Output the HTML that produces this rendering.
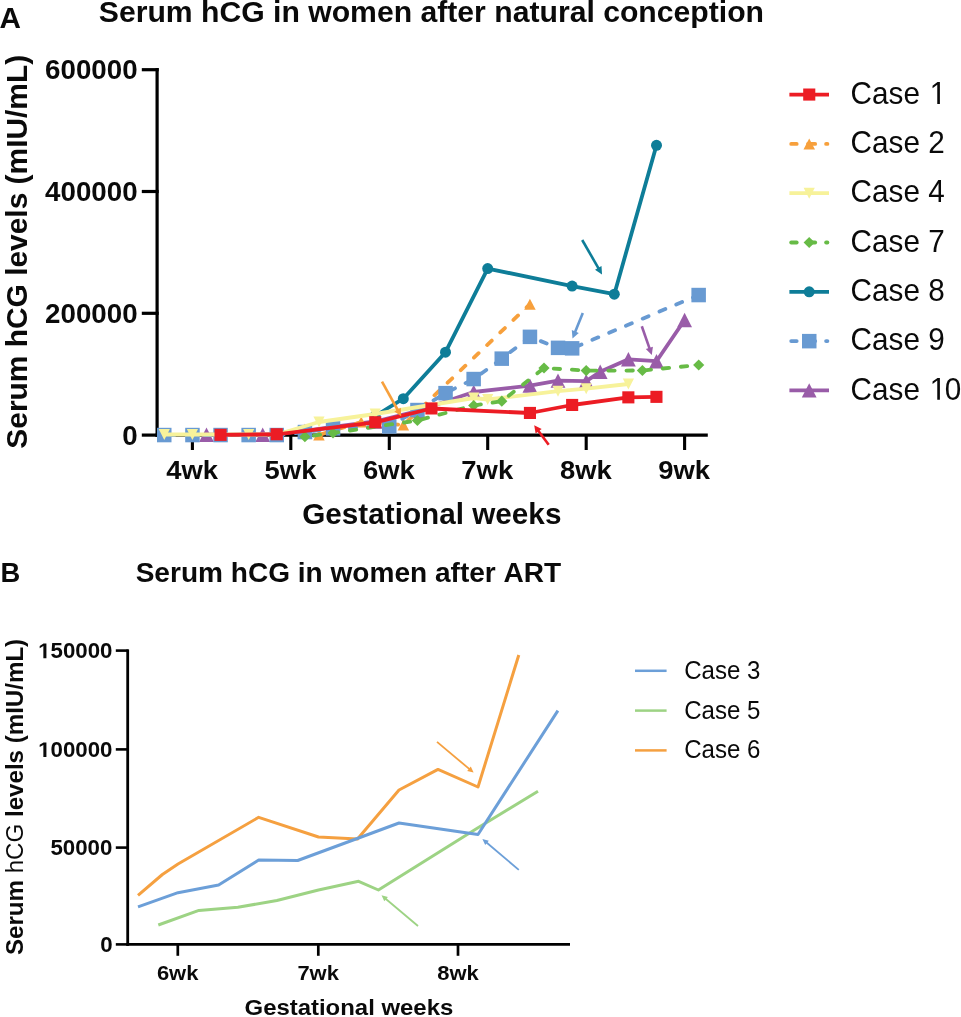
<!DOCTYPE html>
<html><head><meta charset="utf-8"><title>Serum hCG</title><style>
html,body{margin:0;padding:0;background:#fff;}
svg{display:block;}
text{font-family:'Liberation Sans', sans-serif;font-kerning:none;}
</style></head><body>
<svg style="will-change:transform" width="961" height="1017" viewBox="0 0 961 1017">
<rect width="961" height="1017" fill="#fff"/>
<text transform="translate(-0.59,27.69) scale(1.0303,1)" font-size="28.824" font-weight="bold" fill="#0a0a0a">A</text>
<text transform="translate(98.79,21.70) scale(1.0000,1)" font-size="30.168" font-weight="bold" fill="#0a0a0a">Serum hCG in women after natural conception</text>
<text transform="translate(122.16,444.53) scale(1.0252,1)" font-size="27.042" font-weight="bold" fill="#0a0a0a">0</text>
<line x1="141.8" y1="435.1" x2="158.7" y2="435.1" stroke="#000" stroke-width="3.2"/>
<text transform="translate(45.09,322.73) scale(1.0252,1)" font-size="27.042" font-weight="bold" fill="#0a0a0a">200000</text>
<line x1="141.8" y1="313.3" x2="158.7" y2="313.3" stroke="#000" stroke-width="3.2"/>
<text transform="translate(45.09,200.93) scale(1.0252,1)" font-size="27.042" font-weight="bold" fill="#0a0a0a">400000</text>
<line x1="141.8" y1="191.5" x2="158.7" y2="191.5" stroke="#000" stroke-width="3.2"/>
<text transform="translate(45.09,79.13) scale(1.0252,1)" font-size="27.042" font-weight="bold" fill="#0a0a0a">600000</text>
<line x1="141.8" y1="69.7" x2="158.7" y2="69.7" stroke="#000" stroke-width="3.2"/>
<line x1="157.1" y1="68.1" x2="157.1" y2="436.7" stroke="#000" stroke-width="3.2"/>
<line x1="155.5" y1="435.1" x2="707.8" y2="435.1" stroke="#000" stroke-width="3.2"/>
<line x1="192.4" y1="435" x2="192.4" y2="450" stroke="#000" stroke-width="3.1"/>
<text transform="translate(166.30,478.90) scale(1.0709,1)" font-size="25.616" font-weight="bold" fill="#0a0a0a">4wk</text>
<line x1="290.8" y1="435" x2="290.8" y2="450" stroke="#000" stroke-width="3.1"/>
<text transform="translate(264.61,478.90) scale(1.0709,1)" font-size="25.616" font-weight="bold" fill="#0a0a0a">5wk</text>
<line x1="389.3" y1="435" x2="389.3" y2="450" stroke="#000" stroke-width="3.1"/>
<text transform="translate(362.91,478.90) scale(1.0709,1)" font-size="25.616" font-weight="bold" fill="#0a0a0a">6wk</text>
<line x1="487.7" y1="435" x2="487.7" y2="450" stroke="#000" stroke-width="3.1"/>
<text transform="translate(461.35,478.90) scale(1.0709,1)" font-size="25.616" font-weight="bold" fill="#0a0a0a">7wk</text>
<line x1="586.2" y1="435" x2="586.2" y2="450" stroke="#000" stroke-width="3.1"/>
<text transform="translate(559.93,478.90) scale(1.0709,1)" font-size="25.616" font-weight="bold" fill="#0a0a0a">8wk</text>
<line x1="684.6" y1="435" x2="684.6" y2="450" stroke="#000" stroke-width="3.1"/>
<text transform="translate(658.23,478.90) scale(1.0709,1)" font-size="25.616" font-weight="bold" fill="#0a0a0a">9wk</text>
<text transform="translate(302.21,523.80) scale(0.9815,1)" font-size="30.270" font-weight="bold" fill="#0a0a0a">Gestational weeks</text>
<text transform="translate(26.89,448.70) rotate(-90) scale(1.0118,1)" font-size="29.574" font-weight="bold" fill="#0a0a0a">Serum hCG levels (mIU/mL)</text>
<polyline points="206.5,434.7 262.7,434.7 304.9,431.0 333.0,427.0 375.2,421.5 417.4,411.0 473.7,392.0 529.9,385.6 558.0,380.6 586.2,381.2 600.2,371.8 628.4,359.3 656.5,361.2 684.6,320.0" fill="none" stroke="#995CA8" stroke-width="3.8" stroke-linejoin="round"/>
<polygon points="199.1,441.9 213.9,441.9 206.5,427.5" fill="#995CA8"/><polygon points="255.3,441.9 270.1,441.9 262.7,427.5" fill="#995CA8"/><polygon points="297.5,438.2 312.3,438.2 304.9,423.8" fill="#995CA8"/><polygon points="325.6,434.2 340.4,434.2 333.0,419.8" fill="#995CA8"/><polygon points="367.8,428.7 382.6,428.7 375.2,414.3" fill="#995CA8"/><polygon points="410.0,418.2 424.8,418.2 417.4,403.8" fill="#995CA8"/><polygon points="466.3,399.2 481.1,399.2 473.7,384.8" fill="#995CA8"/><polygon points="522.5,392.8 537.3,392.8 529.9,378.4" fill="#995CA8"/><polygon points="550.6,387.8 565.4,387.8 558.0,373.4" fill="#995CA8"/><polygon points="578.8,388.4 593.6,388.4 586.2,374.0" fill="#995CA8"/><polygon points="592.8,379.0 607.6,379.0 600.2,364.6" fill="#995CA8"/><polygon points="621.0,366.5 635.8,366.5 628.4,352.1" fill="#995CA8"/><polygon points="649.1,368.4 663.9,368.4 656.5,354.0" fill="#995CA8"/><polygon points="677.2,327.2 692.0,327.2 684.6,312.8" fill="#995CA8"/>
<polyline points="319.0,435.0 361.2,422.0 403.3,425.0 529.9,304.2" fill="none" stroke="#F7A03C" stroke-width="3.8" stroke-linejoin="round" stroke-dasharray="6.4 11.8" stroke-linecap="round" stroke-dashoffset="-2"/>
<polygon points="313.2,440.5 324.7,440.5 319.0,429.5" fill="#F7A03C"/><polygon points="355.4,427.5 366.9,427.5 361.2,416.5" fill="#F7A03C"/><polygon points="397.6,430.5 409.1,430.5 403.3,419.5" fill="#F7A03C"/><polygon points="524.2,309.7 535.7,309.7 529.9,298.7" fill="#F7A03C"/>
<polyline points="375.2,416.0 403.3,398.7 445.5,352.2 487.7,268.6 572.1,286.1 614.3,294.2 656.5,145.3" fill="none" stroke="#0E7D98" stroke-width="3.8" stroke-linejoin="round"/>
<circle cx="375.2" cy="416.0" r="5.5" fill="#0E7D98"/><circle cx="403.3" cy="398.7" r="5.5" fill="#0E7D98"/><circle cx="445.5" cy="352.2" r="5.5" fill="#0E7D98"/><circle cx="487.7" cy="268.6" r="5.5" fill="#0E7D98"/><circle cx="572.1" cy="286.1" r="5.5" fill="#0E7D98"/><circle cx="614.3" cy="294.2" r="5.5" fill="#0E7D98"/><circle cx="656.5" cy="145.3" r="5.5" fill="#0E7D98"/>
<polyline points="164.3,435.0 192.4,435.0 220.5,435.0 248.7,435.0 276.8,435.0 304.9,432.0 333.0,428.5 389.3,426.5 417.4,410.0 445.5,393.1 473.7,379.0 501.8,358.7 529.9,336.9 558.0,347.8 572.1,348.4 698.7,295.0" fill="none" stroke="#689AD2" stroke-width="3.8" stroke-linejoin="round" stroke-dasharray="6.4 11.8" stroke-linecap="round" stroke-dashoffset="-3.8"/>
<rect x="157.0" y="427.8" width="14.5" height="14.5" fill="#689AD2"/><rect x="185.2" y="427.8" width="14.5" height="14.5" fill="#689AD2"/><rect x="213.3" y="427.8" width="14.5" height="14.5" fill="#689AD2"/><rect x="241.4" y="427.8" width="14.5" height="14.5" fill="#689AD2"/><rect x="269.5" y="427.8" width="14.5" height="14.5" fill="#689AD2"/><rect x="297.7" y="424.8" width="14.5" height="14.5" fill="#689AD2"/><rect x="325.8" y="421.2" width="14.5" height="14.5" fill="#689AD2"/><rect x="382.0" y="419.2" width="14.5" height="14.5" fill="#689AD2"/><rect x="410.2" y="402.8" width="14.5" height="14.5" fill="#689AD2"/><rect x="438.3" y="385.9" width="14.5" height="14.5" fill="#689AD2"/><rect x="466.4" y="371.8" width="14.5" height="14.5" fill="#689AD2"/><rect x="494.5" y="351.4" width="14.5" height="14.5" fill="#689AD2"/><rect x="522.7" y="329.6" width="14.5" height="14.5" fill="#689AD2"/><rect x="550.8" y="340.6" width="14.5" height="14.5" fill="#689AD2"/><rect x="564.9" y="341.1" width="14.5" height="14.5" fill="#689AD2"/><rect x="691.4" y="287.8" width="14.5" height="14.5" fill="#689AD2"/>
<polyline points="164.3,434.5 192.4,434.5 248.7,434.5 276.8,434.5 319.0,422.0 375.2,414.0 473.7,398.0 487.7,399.5 558.0,391.2 586.2,388.7 628.4,384.0" fill="none" stroke="#F7F29A" stroke-width="3.8" stroke-linejoin="round"/>
<polygon points="158.7,429.0 169.9,429.0 164.3,440.0" fill="#F7F29A"/><polygon points="186.8,429.0 198.0,429.0 192.4,440.0" fill="#F7F29A"/><polygon points="243.1,429.0 254.3,429.0 248.7,440.0" fill="#F7F29A"/><polygon points="271.2,429.0 282.4,429.0 276.8,440.0" fill="#F7F29A"/><polygon points="313.4,416.5 324.6,416.5 319.0,427.5" fill="#F7F29A"/><polygon points="369.6,408.5 380.8,408.5 375.2,419.5" fill="#F7F29A"/><polygon points="468.1,392.5 479.3,392.5 473.7,403.5" fill="#F7F29A"/><polygon points="482.1,394.0 493.3,394.0 487.7,405.0" fill="#F7F29A"/><polygon points="552.4,385.7 563.6,385.7 558.0,396.7" fill="#F7F29A"/><polygon points="580.6,383.2 591.8,383.2 586.2,394.2" fill="#F7F29A"/><polygon points="622.8,378.5 634.0,378.5 628.4,389.5" fill="#F7F29A"/>
<polyline points="304.9,436.7 333.0,433.0 417.4,420.5 473.7,405.5 501.8,401.2 544.0,368.0 586.2,370.6 642.4,370.5 698.7,365.0" fill="none" stroke="#67BB46" stroke-width="3.8" stroke-linejoin="round" stroke-dasharray="6.4 11.8" stroke-linecap="round" stroke-dashoffset="-9"/>
<polygon points="299.3,436.7 304.9,431.1 310.5,436.7 304.9,442.3" fill="#67BB46"/><polygon points="327.4,433.0 333.0,427.4 338.6,433.0 333.0,438.6" fill="#67BB46"/><polygon points="411.8,420.5 417.4,414.9 423.0,420.5 417.4,426.1" fill="#67BB46"/><polygon points="468.1,405.5 473.7,399.9 479.3,405.5 473.7,411.1" fill="#67BB46"/><polygon points="496.2,401.2 501.8,395.6 507.4,401.2 501.8,406.8" fill="#67BB46"/><polygon points="538.4,368.0 544.0,362.4 549.6,368.0 544.0,373.6" fill="#67BB46"/><polygon points="580.6,370.6 586.2,365.0 591.8,370.6 586.2,376.2" fill="#67BB46"/><polygon points="636.8,370.5 642.4,364.9 648.0,370.5 642.4,376.1" fill="#67BB46"/><polygon points="693.1,365.0 698.7,359.4 704.3,365.0 698.7,370.6" fill="#67BB46"/>
<polyline points="220.5,434.8 276.8,434.3 375.2,422.3 431.5,408.5 529.9,413.0 572.1,405.0 628.4,397.4 656.5,396.8" fill="none" stroke="#EC1C24" stroke-width="3.8" stroke-linejoin="round"/>
<rect x="214.5" y="428.8" width="12.1" height="12.1" fill="#EC1C24"/><rect x="270.7" y="428.2" width="12.1" height="12.1" fill="#EC1C24"/><rect x="369.2" y="416.2" width="12.1" height="12.1" fill="#EC1C24"/><rect x="425.4" y="402.4" width="12.1" height="12.1" fill="#EC1C24"/><rect x="523.9" y="406.9" width="12.1" height="12.1" fill="#EC1C24"/><rect x="566.1" y="398.9" width="12.1" height="12.1" fill="#EC1C24"/><rect x="622.3" y="391.3" width="12.1" height="12.1" fill="#EC1C24"/><rect x="650.4" y="390.8" width="12.1" height="12.1" fill="#EC1C24"/>
<line x1="382.0" y1="381.7" x2="398.0" y2="410.5" stroke="#F7A03C" stroke-width="2.6"/><polygon points="401.2,416.2 394.3,411.5 400.8,407.8" fill="#F7A03C"/>
<line x1="582.2" y1="240.0" x2="598.8" y2="268.8" stroke="#0E7D98" stroke-width="2.6"/><polygon points="602.0,274.4 595.0,269.8 601.5,266.0" fill="#0E7D98"/>
<line x1="582.8" y1="312.9" x2="574.9" y2="332.4" stroke="#689AD2" stroke-width="2.6"/><polygon points="572.5,338.4 571.8,330.0 578.8,332.9" fill="#689AD2"/>
<line x1="641.8" y1="326.2" x2="649.7" y2="348.9" stroke="#995CA8" stroke-width="2.6"/><polygon points="651.8,355.0 645.8,349.1 652.9,346.7" fill="#995CA8"/>
<line x1="548.7" y1="444.8" x2="538.1" y2="430.4" stroke="#EC1C24" stroke-width="2.6"/><polygon points="534.2,425.2 541.7,429.0 535.6,433.5" fill="#EC1C24"/>
<line x1="789.4" y1="94.6" x2="829" y2="94.6" stroke="#EC1C24" stroke-width="3.8"/>
<rect x="803.2" y="88.5" width="12.1" height="12.1" fill="#EC1C24"/>
<text transform="translate(850.62,103.88) scale(0.9372,1)" font-size="31.690" font-weight="normal" fill="#0a0a0a">Case  </text><polygon transform="translate(928.20,103.88) scale(0.01450,-0.01547)" points="625,0 625,1237 300,1010 300,1180 640,1409 806,1409 806,0" fill="#0a0a0a"/>
<line x1="791.2" y1="143.9" x2="796.7" y2="143.9" stroke="#F7A03C" stroke-width="3.8" stroke-linecap="round"/>
<line x1="808.0" y1="143.9" x2="815.2" y2="143.9" stroke="#F7A03C" stroke-width="3.8" stroke-linecap="round"/>
<line x1="826.1" y1="143.9" x2="827.4" y2="143.9" stroke="#F7A03C" stroke-width="3.8" stroke-linecap="round"/>
<polygon points="803.5,149.4 815.0,149.4 809.2,138.4" fill="#F7A03C"/>
<text transform="translate(850.62,153.18) scale(0.9372,1)" font-size="31.690" font-weight="normal" fill="#0a0a0a">Case 2</text>
<line x1="789.4" y1="193.2" x2="829" y2="193.2" stroke="#F7F29A" stroke-width="3.8"/>
<polygon points="803.6,187.7 814.8,187.7 809.2,198.7" fill="#F7F29A"/>
<text transform="translate(850.62,202.48) scale(0.9372,1)" font-size="31.690" font-weight="normal" fill="#0a0a0a">Case 4</text>
<line x1="791.2" y1="242.5" x2="796.7" y2="242.5" stroke="#67BB46" stroke-width="3.8" stroke-linecap="round"/>
<line x1="808.0" y1="242.5" x2="815.2" y2="242.5" stroke="#67BB46" stroke-width="3.8" stroke-linecap="round"/>
<line x1="826.1" y1="242.5" x2="827.4" y2="242.5" stroke="#67BB46" stroke-width="3.8" stroke-linecap="round"/>
<polygon points="803.6,242.5 809.2,236.9 814.8,242.5 809.2,248.1" fill="#67BB46"/>
<text transform="translate(850.62,251.78) scale(0.9372,1)" font-size="31.690" font-weight="normal" fill="#0a0a0a">Case 7</text>
<line x1="789.4" y1="291.8" x2="829" y2="291.8" stroke="#0E7D98" stroke-width="3.8"/>
<circle cx="809.2" cy="291.8" r="5.5" fill="#0E7D98"/>
<text transform="translate(850.62,301.08) scale(0.9372,1)" font-size="31.690" font-weight="normal" fill="#0a0a0a">Case 8</text>
<line x1="791.2" y1="341.1" x2="796.7" y2="341.1" stroke="#689AD2" stroke-width="3.8" stroke-linecap="round"/>
<line x1="808.0" y1="341.1" x2="815.2" y2="341.1" stroke="#689AD2" stroke-width="3.8" stroke-linecap="round"/>
<line x1="826.1" y1="341.1" x2="827.4" y2="341.1" stroke="#689AD2" stroke-width="3.8" stroke-linecap="round"/>
<rect x="802.0" y="333.9" width="14.5" height="14.5" fill="#689AD2"/>
<text transform="translate(850.62,350.38) scale(0.9372,1)" font-size="31.690" font-weight="normal" fill="#0a0a0a">Case 9</text>
<line x1="789.4" y1="390.4" x2="829" y2="390.4" stroke="#995CA8" stroke-width="3.8"/>
<polygon points="801.8,397.6 816.6,397.6 809.2,383.2" fill="#995CA8"/>
<text transform="translate(850.62,399.68) scale(0.9372,1)" font-size="31.690" font-weight="normal" fill="#0a0a0a">Case  0</text><polygon transform="translate(928.20,399.68) scale(0.01450,-0.01547)" points="625,0 625,1237 300,1010 300,1180 640,1409 806,1409 806,0" fill="#0a0a0a"/>
<text transform="translate(0.38,582.00) scale(0.9638,1)" font-size="28.406" font-weight="bold" fill="#0a0a0a">B</text>
<text transform="translate(135.66,581.80) scale(1.0166,1)" font-size="27.600" font-weight="bold" fill="#0a0a0a">Serum hCG in women after ART</text>
<text transform="translate(100.13,952.04) scale(1.0481,1)" font-size="21.268" font-weight="bold" fill="#0a0a0a">0</text>
<line x1="115.8" y1="944.4" x2="128.5" y2="944.4" stroke="#000" stroke-width="2.6"/>
<text transform="translate(50.42,855.24) scale(1.0481,1)" font-size="21.268" font-weight="bold" fill="#0a0a0a">50000</text>
<line x1="115.8" y1="847.6" x2="128.5" y2="847.6" stroke="#000" stroke-width="2.6"/>
<text transform="translate(38.16,757.04) scale(1.0481,1)" font-size="21.268" font-weight="bold" fill="#0a0a0a"> 00000</text><polygon transform="translate(38.16,757.04) scale(0.01088,-0.01038)" points="478,0 478,1170 140,959 140,1180 493,1409 759,1409 759,0" fill="#0a0a0a"/>
<line x1="115.8" y1="749.4" x2="128.5" y2="749.4" stroke="#000" stroke-width="2.6"/>
<text transform="translate(38.16,658.24) scale(1.0481,1)" font-size="21.268" font-weight="bold" fill="#0a0a0a"> 50000</text><polygon transform="translate(38.16,658.24) scale(0.01088,-0.01038)" points="478,0 478,1170 140,959 140,1180 493,1409 759,1409 759,0" fill="#0a0a0a"/>
<line x1="115.8" y1="650.6" x2="128.5" y2="650.6" stroke="#000" stroke-width="2.6"/>
<line x1="127.7" y1="649.4" x2="127.7" y2="945.7" stroke="#000" stroke-width="2.8"/>
<line x1="126.3" y1="944.4" x2="570" y2="944.4" stroke="#000" stroke-width="2.8"/>
<line x1="177.8" y1="944" x2="177.8" y2="955.8" stroke="#000" stroke-width="2.7"/>
<text transform="translate(156.92,979.80) scale(1.0755,1)" font-size="20.405" font-weight="bold" fill="#0a0a0a">6wk</text>
<line x1="318.3" y1="944" x2="318.3" y2="955.8" stroke="#000" stroke-width="2.7"/>
<text transform="translate(297.42,979.80) scale(1.0755,1)" font-size="20.405" font-weight="bold" fill="#0a0a0a">7wk</text>
<line x1="458" y1="944" x2="458" y2="955.8" stroke="#000" stroke-width="2.7"/>
<text transform="translate(437.23,979.80) scale(1.0755,1)" font-size="20.405" font-weight="bold" fill="#0a0a0a">8wk</text>
<text transform="translate(244.54,1015.07) scale(1.0480,1)" font-size="22.838" font-weight="bold" fill="#0a0a0a">Gestational weeks</text>
<text transform="translate(23.39,955.02) rotate(-90) scale(1.0305,1)" font-size="23.404" font-weight="bold" fill="#0a0a0a"><tspan font-weight="bold">Serum </tspan><tspan font-weight="normal">hCG</tspan><tspan font-weight="bold"> levels (mIU/mL)</tspan></text>
<polyline points="138.0,895.3 162.4,874.5 178.0,864.0 258.7,817.3 318.5,837.0 357.5,839.0 399.0,790.0 438.0,769.4 478.0,787.0 518.8,655.0" fill="none" stroke="#F5A040" stroke-width="3.0" stroke-linejoin="round"/>
<polyline points="158.3,925.0 198.9,910.4 237.9,907.3 276.9,900.5 318.5,890.0 358.6,881.3 378.4,890.0 412.0,869.0 478.0,827.7 538.0,791.3" fill="none" stroke="#9DD384" stroke-width="3.0" stroke-linejoin="round"/>
<polyline points="138.0,906.8 178.0,892.7 218.6,885.0 258.7,860.0 297.7,860.5 358.6,838.0 399.0,823.0 478.0,834.5 557.9,710.6" fill="none" stroke="#6C9FD8" stroke-width="3.0" stroke-linejoin="round"/>
<line x1="437.0" y1="741.9" x2="469.8" y2="769.4" stroke="#F5A040" stroke-width="1.8"/><polygon points="473.6,772.6 467.2,770.9 470.8,766.6" fill="#F5A040"/>
<line x1="518.8" y1="869.9" x2="486.2" y2="842.2" stroke="#6C9FD8" stroke-width="1.8"/><polygon points="482.4,839.0 488.8,840.8 485.2,845.0" fill="#6C9FD8"/>
<line x1="418.0" y1="926.0" x2="385.3" y2="898.5" stroke="#9DD384" stroke-width="1.8"/><polygon points="381.5,895.3 387.9,897.1 384.3,901.3" fill="#9DD384"/>
<line x1="635" y1="670.8" x2="666.6" y2="670.8" stroke="#6C9FD8" stroke-width="2.5"/>
<text transform="translate(684.20,678.75) scale(0.9442,1)" font-size="25.493" font-weight="normal" fill="#0a0a0a">Case 3</text>
<line x1="635" y1="710.6" x2="666.6" y2="710.6" stroke="#9DD384" stroke-width="2.5"/>
<text transform="translate(684.20,718.55) scale(0.9442,1)" font-size="25.493" font-weight="normal" fill="#0a0a0a">Case 5</text>
<line x1="635" y1="750.4" x2="666.6" y2="750.4" stroke="#F5A040" stroke-width="2.5"/>
<text transform="translate(684.20,758.35) scale(0.9442,1)" font-size="25.493" font-weight="normal" fill="#0a0a0a">Case 6</text>
</svg>
</body></html>
